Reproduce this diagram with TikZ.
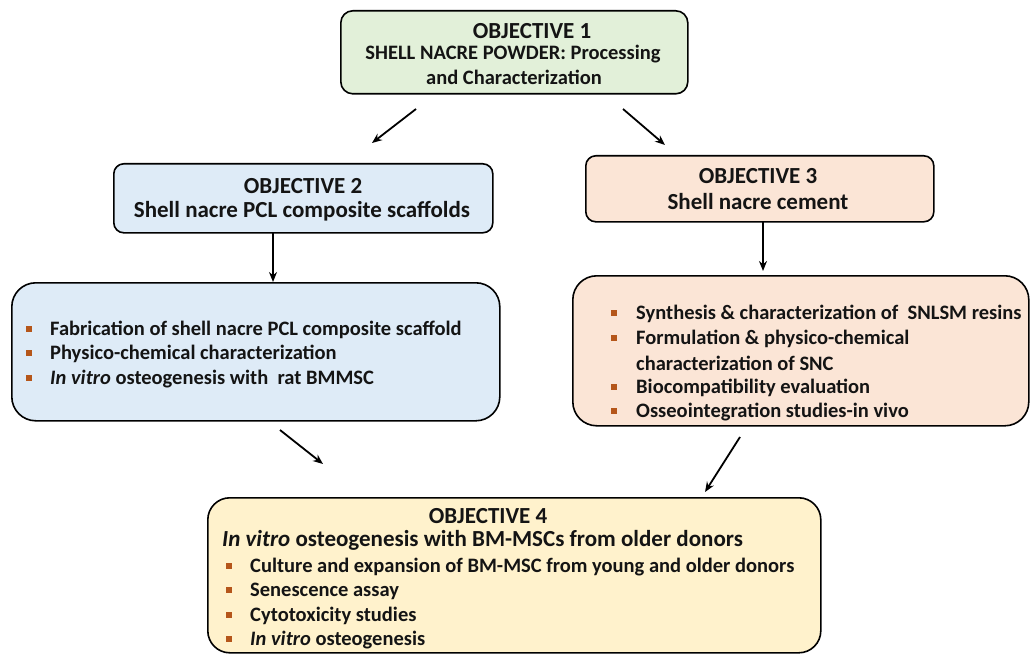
\documentclass[tikz,border=0pt]{standalone}
\usepackage{fontspec}
\setmainfont{Carlito}
\usetikzlibrary{arrows.meta}
\definecolor{gfill}{HTML}{E2F0D9}
\definecolor{bfill}{HTML}{DEEBF7}
\definecolor{ofill}{HTML}{FBE5D6}
\definecolor{yfill}{HTML}{FFF2CC}
\definecolor{bul}{HTML}{B5561A}
\definecolor{txt}{HTML}{141414}
\begin{document}
\begin{tikzpicture}[x=1pt,y=-1pt,
  box/.style={draw=black,line width=1.6pt,anchor=north west,inner sep=0pt},
  tt/.style={font=\fontsize{20.5}{24}\selectfont\bfseries,text=txt,inner sep=0pt},
  hd/.style={font=\fontsize{23}{27}\selectfont\bfseries,text=txt,inner sep=0pt},
  li/.style={tt,anchor=west},
  bsq/.style={fill=bul,minimum size=6pt,inner sep=0pt},
  arr/.style={-{Stealth[length=10pt,width=8pt]},line width=1.8pt}]
\useasboundingbox (0,0) rectangle (1030,655);
% boxes
\node[box,rounded corners=12pt,fill=gfill,minimum width=347pt,minimum height=83pt] (o1) at (340,10) {};
\node[box,rounded corners=10pt,fill=bfill,minimum width=379pt,minimum height=69pt] (o2) at (113,163) {};
\node[box,rounded corners=10pt,fill=ofill,minimum width=348pt,minimum height=66pt] (o3) at (585,155) {};
\node[box,rounded corners=24pt,fill=bfill,minimum width=488pt,minimum height=138pt] (b2) at (11,282) {};
\node[box,rounded corners=24pt,fill=ofill,minimum width=456pt,minimum height=150pt] (b3) at (572,275) {};
\node[box,rounded corners=22pt,fill=yfill,minimum width=613pt,minimum height=155pt] (o4) at (207,497) {};
% objective 1
\node[hd] (t1a) at (532,31) {OBJECTIVE 1};
\node[tt] (t1b) at (513,54) {SHELL NACRE POWDER: Processing};
\node[tt] (t1c) at (514,77) {and Characterization};
% objective 2
\node[hd] (t2a) at (303,186) {OBJECTIVE 2};
\node[hd] (t2b) at (302,211) {Shell nacre PCL composite scaffolds};
% objective 3
\node[hd] (t3a) at (758,176) {OBJECTIVE 3};
\node[hd] (t3b) at (758,202) {Shell nacre cement};
% blue list
\node[bsq] (q21) at (29,329) {};
\node[li] (l21) at (50,330) {Fabrication of shell nacre PCL composite scaffold};
\node[bsq] (q22) at (29,353) {};
\node[li] (l22) at (50,354) {Physico-chemical characterization};
\node[bsq] (q23) at (29,378) {};
\node[li] (l23) at (50,379) {\textit{In vitro} osteogenesis with\ \ rat BMMSC};
% orange list
\node[bsq] (q31) at (614,313) {};
\node[li] (l31) at (636,314) {Synthesis \& characterization of\ \ SNLSM resins};
\node[bsq] (q32) at (614,338) {};
\node[li] (l32) at (636,339) {Formulation \& physico-chemical};
\node[li] (l32b) at (636,363) {characterization of SNC};
\node[bsq] (q33) at (614,387) {};
\node[li] (l33) at (636,388) {Biocompatibility evaluation};
\node[bsq] (q34) at (614,411) {};
\node[li] (l34) at (636,412) {Osseointegration studies-in vivo};
% objective 4
\node[hd] (t4a) at (488,516) {OBJECTIVE 4};
\node[hd,anchor=west] (t4b) at (222,540) {\textit{In vitro} osteogenesis with BM-MSCs from older donors};
\node[bsq] (q41) at (229,566) {};
\node[li] (l41) at (250,567) {Culture and expansion of BM-MSC from young and older donors};
\node[bsq] (q42) at (229,590) {};
\node[li] (l42) at (250,591) {Senescence assay};
\node[bsq] (q43) at (229,615) {};
\node[li] (l43) at (250,616) {Cytotoxicity studies};
\node[bsq] (q44) at (229,639) {};
\node[li] (l44) at (250,640) {\textit{In vitro} osteogenesis};
% arrows
\coordinate (a1s) at (416,109);
\coordinate (a1e) at (372,143);
\coordinate (a2s) at (623,109);
\coordinate (a2e) at (665,145);
\coordinate (a3s) at (273,232);
\coordinate (a3e) at (273,282);
\coordinate (a4s) at (763,222);
\coordinate (a4e) at (763,271);
\coordinate (a5s) at (280,430);
\coordinate (a5e) at (323,464);
\coordinate (a6s) at (740,437);
\coordinate (a6e) at (705,492);
\draw[arr] (a1s) -- (a1e);
\draw[arr] (a2s) -- (a2e);
\draw[arr] (a3s) -- (a3e);
\draw[arr] (a4s) -- (a4e);
\draw[arr] (a5s) -- (a5e);
\draw[arr] (a6s) -- (a6e);
\end{tikzpicture}
\end{document}
